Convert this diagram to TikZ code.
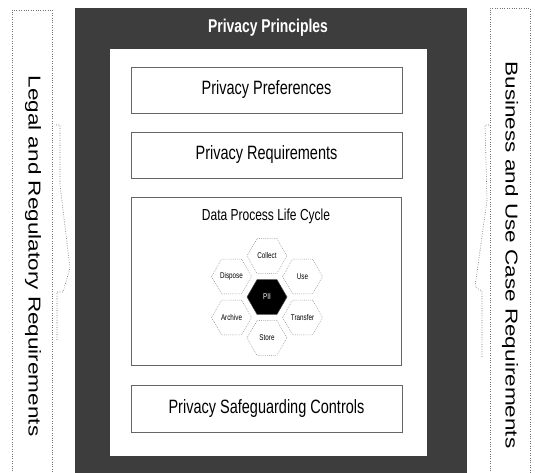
\documentclass[tikz,border=0pt]{standalone}
\usepackage{fontspec}
\setmainfont{Liberation Sans}
\usetikzlibrary{shapes.geometric}
% text in this figure is set slightly tall
\newcommand{\talltext}[1]{\scalebox{1}[1.33]{#1}}

\tikzset{
  frame/.style={fill=black!76},
  panel/.style={draw=black!60, line width=0.6pt, fill=white, inner sep=0pt},
  boxlabel/.style={font=\fontsize{14.5}{16}\selectfont, inner sep=0pt},
  sidetext/.style={font=\fontsize{17.2}{19}\selectfont, inner sep=0pt},
  dotline/.style={draw=black!55, line width=0.6pt, dash pattern=on 0.8pt off 1.6pt},
  hexcell/.style={regular polygon, regular polygon sides=6, minimum size=40pt,
    inner sep=0pt, draw=black!50, line width=0.5pt, dash pattern=on 0.7pt off 1.2pt,
    font=\fontsize{6.3}{7}\selectfont},
  hexcore/.style={regular polygon, regular polygon sides=6, minimum size=40pt,
    inner sep=0pt, fill=black, draw=black!70, line width=0.5pt, text=white,
    font=\fontsize{6.3}{7}\selectfont},
}

\begin{document}
\begin{tikzpicture}[x=1pt, y=-1pt]
  \useasboundingbox (0,0) rectangle (535,473);
  \fill[white] (0,0) rectangle (535,473);

  % side columns
  \draw[dotline] (12,476) -- (12,10) -- (52,10) -- (52,476);
  \draw[dotline] (490,476) -- (490,8) -- (530,8) -- (530,476);
  \node[sidetext] (legal) at (33,256)
    {\scalebox{1}[1.31]{\rotatebox{-90}{Legal and Regulatory Requirements}}};
  \node[sidetext] (business) at (510,255)
    {\scalebox{1}[1.31]{\rotatebox{-90}{Business and Use Case Requirements}}};

  % chevrons pointing in toward the centre
  \draw[dotline] (56,125) -- (60,125) -- (60,185) -- (70,268) -- (63,292)
    -- (57,292) -- (57,340);
  \draw[dotline] (489,125) -- (485,125) -- (487,200) -- (475,287) -- (482,291)
    -- (482,357);

  % dark frame with the white panel
  \fill[frame] (75,8) rectangle (467,476);
  \node[font=\fontsize{13.9}{15}\selectfont\bfseries, text=white, inner sep=0pt]
    (principles) at (268,28) {\talltext{Privacy Principles}};
  \fill[white] (110,49) rectangle (427,456);

  % stacked boxes
  \node[panel, minimum width=271pt, minimum height=46pt] (pref) at (266.5,90) {};
  \node[boxlabel] (preflabel) at (pref.center) {\talltext{Privacy Preferences}};

  \node[panel, minimum width=271pt, minimum height=46pt] (req) at (266.5,155) {};
  \node[boxlabel] (reqlabel) at (req.center) {\talltext{Privacy Requirements}};

  \node[panel, minimum width=270pt, minimum height=168pt] (cycle) at (266,281) {};
  \node[font=\fontsize{12}{14}\selectfont, inner sep=0pt] (cyclelabel) at (266,216)
    {\talltext{Data Process Life Cycle}};

  \node[panel, minimum width=271pt, minimum height=47pt] (safe) at (266.5,408.5) {};
  \node[boxlabel] (safelabel) at (safe.center) {\talltext{Privacy Safeguarding Controls}};

  % life cycle honeycomb
  \node[hexcore] (pii) at (267,297) {\talltext{PII}};
  \node[hexcell] (collect)  at (267,256)     {\talltext{Collect}};
  \node[hexcell] (use)      at (302.5,276.5) {\talltext{Use}};
  \node[hexcell] (transfer) at (302.5,317.5) {\talltext{Transfer}};
  \node[hexcell] (store)    at (267,338)     {\talltext{Store}};
  \node[hexcell] (archive)  at (231.5,317.5) {\talltext{Archive}};
  \node[hexcell] (dispose)  at (231.5,276.5) {\talltext{Dispose}};
\end{tikzpicture}
\end{document}
